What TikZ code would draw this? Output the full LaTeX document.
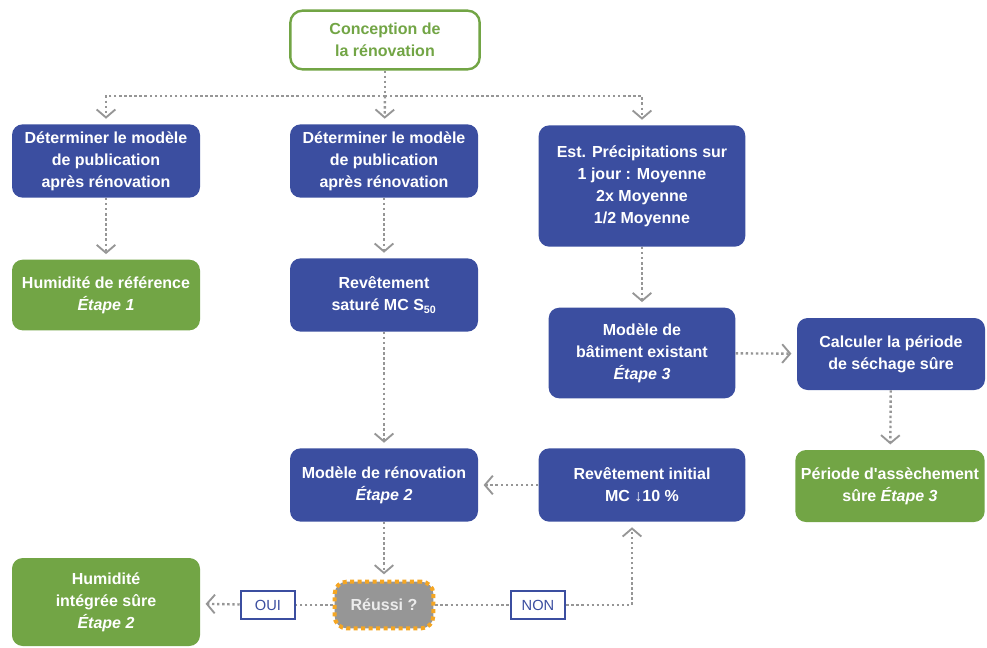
\documentclass[tikz,border=0pt]{standalone}
\usepackage{fontspec}
\setmainfont{Liberation Sans}
\usetikzlibrary{positioning, arrows.meta, calc}
\definecolor{bleu}{RGB}{59,78,160}
\definecolor{vert}{RGB}{114,165,69}
\definecolor{gristrait}{RGB}{150,150,150}
\definecolor{orangebord}{RGB}{245,166,35}
\tikzset{
  bluebox/.style={rectangle, rounded corners=8pt, fill=bleu, text=white, align=center, font=\fontsize{12}{16.5}\selectfont\bfseries, minimum width=141pt, minimum height=55pt},
  greenbox/.style={rectangle, rounded corners=8pt, fill=vert, text=white, align=center, font=\fontsize{12}{16.5}\selectfont\bfseries, minimum width=141pt, minimum height=53pt},
  startbox/.style={rectangle, rounded corners=9pt, draw=vert, line width=1.8pt, fill=white, text=vert, align=center, font=\fontsize{12}{16.5}\selectfont\bfseries, minimum width=142pt, minimum height=44pt},
  testbox/.style={rectangle, rounded corners=9pt, fill=gristrait, draw=orangebord, line width=3pt, dash pattern=on 3pt off 2.6pt, text=white!85!gray, font=\fontsize{12}{16.5}\selectfont\bfseries, minimum width=74pt, minimum height=35pt},
  answer/.style={rectangle, draw=bleu, line width=1.4pt, fill=white, text=bleu, font=\fontsize{11}{13}\selectfont, minimum width=41pt, minimum height=21pt},
  link/.style={draw=gristrait, line width=1.8pt, dash pattern=on 1.8pt off 2pt},
  arrow/.style={link, -{Straight Barb[length=6pt, width=14pt, line width=1.4pt]}, shorten >=4pt}
}
\begin{document}
\begin{tikzpicture}[x=0.75pt, y=-0.75pt]
  \useasboundingbox (0,0) rectangle (987,647);

  % Point de depart
  \node (concept) [startbox] at (385,40) {Conception de\\la rénovation};
  \coordinate (split) at (385,96);

  % Premiere rangee
  \node (det1) [bluebox] at (106,161) {Déterminer le modèle\\de publication\\après rénovation};
  \node (det2) [bluebox] at (384,161) {Déterminer le modèle\\de publication\\après rénovation};
  \node (precip) [bluebox, minimum width=155pt, minimum height=91pt] at (642,186) {Est. Précipitations sur\\1 jour : Moyenne\\2x Moyenne\\1/2 Moyenne};

  % Deuxieme rangee
  \node (refhum) [greenbox] at (106,295) {Humidité de référence\\\textit{Étape 1}};
  \node (satur) [bluebox] at (384,295) {Revêtement\\saturé MC S\textsubscript{50}};
  \node (batim) [bluebox, minimum width=140pt, minimum height=68pt] at (642,353) {Modèle de\\bâtiment existant\\\textit{Étape 3}};
  \node (calcul) [bluebox, minimum height=54pt] at (891,354) {Calculer la période\\de séchage sûre};

  % Troisieme rangee
  \node (renov) [bluebox] at (384,485) {Modèle de rénovation\\\textit{Étape 2}};
  \node (initial) [bluebox, minimum width=155pt] at (642,485) {Revêtement initial\\MC ↓10 \%};
  \node (periode) [greenbox, minimum width=142pt, minimum height=54pt] at (890,486) {Période d\textquotesingle assèchement\\sûre \textit{Étape 3}};

  % Test final
  \node (reussi) [testbox] at (384,605) {Réussi ?};
  \node (oui) [answer] at (268,605) {OUI};
  \node (non) [answer] at (538,605) {NON};
  \node (integ) [greenbox, minimum height=66pt] at (106,602) {Humidité\\intégrée sûre\\\textit{Étape 2}};

  % Fleches
  \draw [link] (concept) -- (split);
  \draw [arrow] (split) -| (det1);
  \draw [arrow] (split) -- (det2);
  \draw [arrow] (split) -| (precip);
  \draw [arrow] (det1) -- (refhum);
  \draw [arrow] (det2) -- (satur);
  \draw [arrow] (precip) -- (batim);
  \draw [arrow] (batim) -- (calcul);
  \draw [arrow] (calcul) -- (periode);
  \draw [arrow] (satur) -- (renov);
  \draw [arrow] (initial) -- (renov);
  \draw [arrow] (renov) -- (reussi);

  % Branches oui / non
  \draw [link] (reussi) -- (oui);
  \draw [arrow] (oui) -- (integ);
  \draw [link] (reussi) -- (non);
  \draw [arrow] (non) -| ([xshift=-7.5pt]initial.south);

\end{tikzpicture}
\end{document}
